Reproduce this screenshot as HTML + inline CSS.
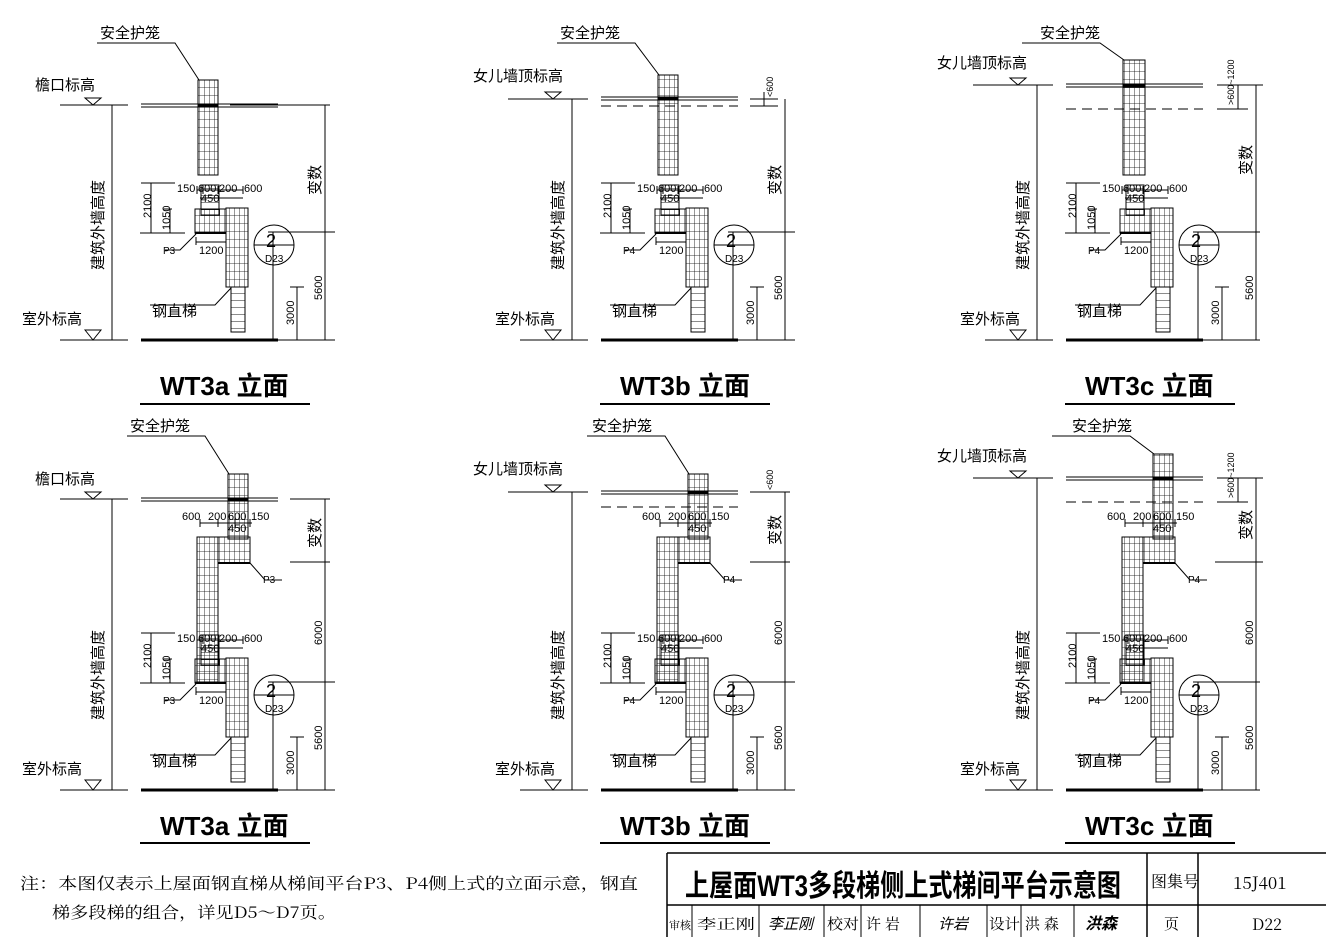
<!DOCTYPE html>
<html><head><meta charset="utf-8"><style>
html,body{margin:0;padding:0;background:#fff}
svg{display:block}
text{font-family:"Liberation Sans","Noto Sans CJK SC",sans-serif;fill:#000}
.s{font-family:"Noto Serif CJK SC","Liberation Serif",serif}
</style></head><body>
<svg width="1326" height="937" viewBox="0 0 1326 937" xmlns="http://www.w3.org/2000/svg">
<defs>
<pattern id="g" width="5" height="8" patternUnits="userSpaceOnUse"><path d="M5 0V8M0 8H5" stroke="#000" stroke-width="0.8" fill="none"/></pattern>
<pattern id="l" width="14" height="7" patternUnits="userSpaceOnUse"><path d="M0 7H14" stroke="#000" stroke-width="0.9"/></pattern>
<g id="low" stroke="#000" fill="none" stroke-width="1">
 <rect x="195" y="209" width="31" height="24" fill="url(#g)"/>
 <rect x="201" y="185" width="18" height="30" fill="url(#l)"/>
 <rect x="226" y="208" width="22" height="79" fill="url(#g)"/>
 <rect x="231" y="287" width="14" height="45" fill="url(#l)"/>
 <path d="M195 233H226" stroke-width="2"/>
 <path d="M141 183H175M151 183V233M140 233H185M163 209H172M170 209V233"/>
 <path d="M197 190H243M197 186V194M203 186V194M218 186V194M243 186V194M200 198H243"/>
 <path d="M196 237V245M196 242H226"/>
 <path d="M196 234L180 250H165"/>
 <path d="M231 288L215 305H150"/>
 <circle cx="274" cy="245" r="20"/><path d="M254 245H294"/>
 <path d="M273 232V340M297 287V340M290 287H304M268 232H335M268 340H335"/>
</g>
</defs>

<!-- COLUMN 1 TOP -->
<g stroke="#000" fill="none">
 <path d="M97 43H175L199 80"/>
 <rect x="198" y="80" width="20" height="95" fill="url(#g)"/>
 <path d="M141 104H278M141 107H278" /><path d="M198 105H218" stroke-width="3"/>
 <path d="M230 105H330"/>
 <path d="M60 105H128M85 98L93 105L101 98Z"/>
 <path d="M112 105V340M60 340H128M85 330L93 340L101 330Z"/>
 <path d="M141 340H278" stroke-width="3"/>
 <path d="M325 105V340"/>
 <path d="M140 404H310" stroke-width="2"/>
</g>
<use href="#low"/>
<text x="100" y="38" font-size="15">安全护笼</text>
<text x="35" y="90" font-size="15">檐口标高</text>
<text x="22" y="324" font-size="15">室外标高</text>
<text x="152" y="316" font-size="15">钢直梯</text>
<text font-size="15" transform="translate(103,270) rotate(-90)">建筑外墙高度</text>
<text font-size="15" transform="translate(320,195) rotate(-90)">变数</text>
<text font-size="11" transform="translate(322,300) rotate(-90)">5600</text>
<text font-size="11" transform="translate(294,325) rotate(-90)">3000</text>
<text font-size="11" transform="translate(151,218) rotate(-90)">2100</text>
<text font-size="11" transform="translate(170,230) rotate(-90)">1050</text>
<text x="177" y="192" font-size="11">150</text><text x="198" y="192" font-size="11">600</text><text x="219" y="192" font-size="11">200</text><text x="244" y="192" font-size="11">600</text>
<text x="201" y="202" font-size="11">450</text><text x="199" y="254" font-size="11">1200</text><text x="163" y="254" font-size="10">P3</text>
<text x="266" y="247" font-size="18">2</text><text x="265" y="262" font-size="10">D23</text>
<text x="160" y="395" font-size="26" font-weight="bold">WT3a 立面</text>

<!-- COLUMN 2 TOP -->
<g transform="translate(460,0)">
<g stroke="#000" fill="none">
 <path d="M97 43H175L199 75"/>
 <rect x="198" y="75" width="20" height="100" fill="url(#g)"/>
 <path d="M141 97H278M141 100H278"/><path d="M198 99H218" stroke-width="3"/>
 <path d="M141 106H278" stroke-dasharray="10 6"/>
 <path d="M290 99H318M290 106H318M304 92V106"/>
 <path d="M48 99H128M85 92L93 99L101 92Z"/>
 <path d="M112 99V340M60 340H128M85 330L93 340L101 330Z"/>
 <path d="M141 340H278" stroke-width="3"/>
 <path d="M325 99V340"/>
 <path d="M140 404H310" stroke-width="2"/>
</g>
<use href="#low"/>
<text x="100" y="38" font-size="15">安全护笼</text>
<text x="13" y="81" font-size="15">女儿墙顶标高</text>
<text x="35" y="324" font-size="15">室外标高</text>
<text x="152" y="316" font-size="15">钢直梯</text>
<text font-size="15" transform="translate(103,270) rotate(-90)">建筑外墙高度</text>
<text font-size="15" transform="translate(320,195) rotate(-90)">变数</text>
<text font-size="9" transform="translate(313,97) rotate(-90)">&lt;600</text>
<text font-size="11" transform="translate(322,300) rotate(-90)">5600</text>
<text font-size="11" transform="translate(294,325) rotate(-90)">3000</text>
<text font-size="11" transform="translate(151,218) rotate(-90)">2100</text>
<text font-size="11" transform="translate(170,230) rotate(-90)">1050</text>
<text x="177" y="192" font-size="11">150</text><text x="198" y="192" font-size="11">600</text><text x="219" y="192" font-size="11">200</text><text x="244" y="192" font-size="11">600</text>
<text x="201" y="202" font-size="11">450</text><text x="199" y="254" font-size="11">1200</text><text x="163" y="254" font-size="10">P4</text>
<text x="266" y="247" font-size="18">2</text><text x="265" y="262" font-size="10">D23</text>
<text x="160" y="395" font-size="26" font-weight="bold">WT3b 立面</text>
</g>

<!-- COLUMN 3 TOP -->
<g transform="translate(925,0)">
<g stroke="#000" fill="none">
 <path d="M97 43H175L199 60"/>
 <rect x="198" y="60" width="22" height="115" fill="url(#g)"/>
 <path d="M141 84H278M141 87H278"/><path d="M198 85H220" stroke-width="3"/>
 <path d="M141 109H278" stroke-dasharray="10 6"/>
 <path d="M292 85H338M292 109H323M313 85V109"/>
 <path d="M48 85H128M85 78L93 85L101 78Z"/>
 <path d="M112 85V340M60 340H128M85 330L93 340L101 330Z"/>
 <path d="M141 340H278" stroke-width="3"/>
 <path d="M331 85V340"/>
 <path d="M140 404H310" stroke-width="2"/>
</g>
<use href="#low"/>
<text x="115" y="38" font-size="15">安全护笼</text>
<text x="12" y="68" font-size="15">女儿墙顶标高</text>
<text x="35" y="324" font-size="15">室外标高</text>
<text x="152" y="316" font-size="15">钢直梯</text>
<text font-size="15" transform="translate(103,270) rotate(-90)">建筑外墙高度</text>
<text font-size="15" transform="translate(326,175) rotate(-90)">变数</text>
<text font-size="9" transform="translate(309,105) rotate(-90)">&gt;600~1200</text>
<text font-size="11" transform="translate(328,300) rotate(-90)">5600</text>
<text font-size="11" transform="translate(294,325) rotate(-90)">3000</text>
<text font-size="11" transform="translate(151,218) rotate(-90)">2100</text>
<text font-size="11" transform="translate(170,230) rotate(-90)">1050</text>
<text x="177" y="192" font-size="11">150</text><text x="198" y="192" font-size="11">600</text><text x="219" y="192" font-size="11">200</text><text x="244" y="192" font-size="11">600</text>
<text x="201" y="202" font-size="11">450</text><text x="199" y="254" font-size="11">1200</text><text x="163" y="254" font-size="10">P4</text>
<text x="266" y="247" font-size="18">2</text><text x="265" y="262" font-size="10">D23</text>
<text x="160" y="395" font-size="26" font-weight="bold">WT3c 立面</text>
</g>

<!-- ROW 2 col1 -->
<g>
<g stroke="#000" fill="none">
 <path d="M127 436H205L229 474"/>
 <rect x="228" y="474" width="20" height="65" fill="url(#g)"/>
 <rect x="218" y="537" width="32" height="26" fill="url(#g)"/>
 <rect x="197" y="537" width="21" height="145" fill="url(#g)"/>
 <path d="M218 563H250" stroke-width="2"/>
 <path d="M250 563L265 580H282"/>
 <path d="M200 523H252M200 519V527M218 519V527M235 519V527M250 519V527"/>
 <path d="M141 498H278M141 501H278"/><path d="M228 499H248" stroke-width="3"/>
 <path d="M290 499H330M290 562H330"/>
 <path d="M60 499H128M85 492L93 499L101 492Z"/>
 <path d="M112 499V790M60 790H128M85 780L93 790L101 780Z"/>
 <path d="M141 790H278" stroke-width="3"/>
 <path d="M325 499V790"/>
 <path d="M140 843H310" stroke-width="2"/>
</g>
<g transform="translate(0,450)"><use href="#low"/></g>
<text x="130" y="431" font-size="15">安全护笼</text>
<text x="35" y="484" font-size="15">檐口标高</text>
<text x="22" y="774" font-size="15">室外标高</text>
<text x="152" y="766" font-size="15">钢直梯</text>
<text font-size="15" transform="translate(103,720) rotate(-90)">建筑外墙高度</text>
<text font-size="15" transform="translate(320,548) rotate(-90)">变数</text>
<text font-size="11" transform="translate(322,750) rotate(-90)">5600</text>
<text font-size="11" transform="translate(322,645) rotate(-90)">6000</text>
<text font-size="11" transform="translate(294,775) rotate(-90)">3000</text>
<text font-size="11" transform="translate(151,668) rotate(-90)">2100</text>
<text font-size="11" transform="translate(170,680) rotate(-90)">1050</text>
<text x="182" y="520" font-size="11">600</text><text x="208" y="520" font-size="11">200</text><text x="228" y="520" font-size="11">600</text><text x="251" y="520" font-size="11">150</text><text x="228" y="532" font-size="11">450</text>
<text x="263" y="583" font-size="10">P3</text>
<text x="177" y="642" font-size="11">150</text><text x="198" y="642" font-size="11">600</text><text x="219" y="642" font-size="11">200</text><text x="244" y="642" font-size="11">600</text>
<text x="201" y="652" font-size="11">450</text><text x="199" y="704" font-size="11">1200</text><text x="163" y="704" font-size="10">P3</text>
<text x="266" y="697" font-size="18">2</text><text x="265" y="712" font-size="10">D23</text>
<text x="160" y="835" font-size="26" font-weight="bold">WT3a 立面</text>
</g>

<!-- ROW 2 col2 -->
<g transform="translate(460,0)">
<g stroke="#000" fill="none">
 <path d="M127 436H205L229 474"/>
 <rect x="228" y="474" width="20" height="65" fill="url(#g)"/>
 <rect x="218" y="537" width="32" height="26" fill="url(#g)"/>
 <rect x="197" y="537" width="21" height="145" fill="url(#g)"/>
 <path d="M218 563H250" stroke-width="2"/>
 <path d="M250 563L265 580H282"/>
 <path d="M200 523H252M200 519V527M218 519V527M235 519V527M250 519V527"/>
 <path d="M141 491H278M141 494H278"/><path d="M228 492H248" stroke-width="3"/>
 <path d="M141 507H278" stroke-dasharray="10 6"/>
 <path d="M290 492H330M290 562H330"/>
 <path d="M48 492H128M85 485L93 492L101 485Z"/>
 <path d="M112 492V790M60 790H128M85 780L93 790L101 780Z"/>
 <path d="M141 790H278" stroke-width="3"/>
 <path d="M325 492V790"/>
 <path d="M140 843H310" stroke-width="2"/>
</g>
<g transform="translate(0,450)"><use href="#low"/></g>
<text x="132" y="431" font-size="15">安全护笼</text>
<text x="13" y="474" font-size="15">女儿墙顶标高</text>
<text x="35" y="774" font-size="15">室外标高</text>
<text x="152" y="766" font-size="15">钢直梯</text>
<text font-size="15" transform="translate(103,720) rotate(-90)">建筑外墙高度</text>
<text font-size="15" transform="translate(320,545) rotate(-90)">变数</text>
<text font-size="9" transform="translate(313,490) rotate(-90)">&lt;600</text>
<text font-size="11" transform="translate(322,750) rotate(-90)">5600</text>
<text font-size="11" transform="translate(322,645) rotate(-90)">6000</text>
<text font-size="11" transform="translate(294,775) rotate(-90)">3000</text>
<text font-size="11" transform="translate(151,668) rotate(-90)">2100</text>
<text font-size="11" transform="translate(170,680) rotate(-90)">1050</text>
<text x="182" y="520" font-size="11">600</text><text x="208" y="520" font-size="11">200</text><text x="228" y="520" font-size="11">600</text><text x="251" y="520" font-size="11">150</text><text x="228" y="532" font-size="11">450</text>
<text x="263" y="583" font-size="10">P4</text>
<text x="177" y="642" font-size="11">150</text><text x="198" y="642" font-size="11">600</text><text x="219" y="642" font-size="11">200</text><text x="244" y="642" font-size="11">600</text>
<text x="201" y="652" font-size="11">450</text><text x="199" y="704" font-size="11">1200</text><text x="163" y="704" font-size="10">P4</text>
<text x="266" y="697" font-size="18">2</text><text x="265" y="712" font-size="10">D23</text>
<text x="160" y="835" font-size="26" font-weight="bold">WT3b 立面</text>
</g>

<!-- ROW 2 col3 -->
<g transform="translate(925,0)">
<g stroke="#000" fill="none">
 <path d="M127 436H205L229 454"/>
 <rect x="228" y="454" width="20" height="85" fill="url(#g)"/>
 <rect x="218" y="537" width="32" height="26" fill="url(#g)"/>
 <rect x="197" y="537" width="21" height="145" fill="url(#g)"/>
 <path d="M218 563H250" stroke-width="2"/>
 <path d="M250 563L265 580H282"/>
 <path d="M200 523H252M200 519V527M218 519V527M235 519V527M250 519V527"/>
 <path d="M141 477H278M141 480H278"/><path d="M228 478H248" stroke-width="3"/>
 <path d="M141 502H278" stroke-dasharray="10 6"/>
 <path d="M292 478H338M292 502H323M313 478V502M290 562H338"/>
 <path d="M48 478H128M85 471L93 478L101 471Z"/>
 <path d="M112 478V790M60 790H128M85 780L93 790L101 780Z"/>
 <path d="M141 790H278" stroke-width="3"/>
 <path d="M331 478V790"/>
 <path d="M140 843H310" stroke-width="2"/>
</g>
<g transform="translate(0,450)"><use href="#low"/></g>
<text x="147" y="431" font-size="15">安全护笼</text>
<text x="12" y="461" font-size="15">女儿墙顶标高</text>
<text x="35" y="774" font-size="15">室外标高</text>
<text x="152" y="766" font-size="15">钢直梯</text>
<text font-size="15" transform="translate(103,720) rotate(-90)">建筑外墙高度</text>
<text font-size="15" transform="translate(326,540) rotate(-90)">变数</text>
<text font-size="9" transform="translate(309,498) rotate(-90)">&gt;600~1200</text>
<text font-size="11" transform="translate(328,750) rotate(-90)">5600</text>
<text font-size="11" transform="translate(328,645) rotate(-90)">6000</text>
<text font-size="11" transform="translate(294,775) rotate(-90)">3000</text>
<text font-size="11" transform="translate(151,668) rotate(-90)">2100</text>
<text font-size="11" transform="translate(170,680) rotate(-90)">1050</text>
<text x="182" y="520" font-size="11">600</text><text x="208" y="520" font-size="11">200</text><text x="228" y="520" font-size="11">600</text><text x="251" y="520" font-size="11">150</text><text x="228" y="532" font-size="11">450</text>
<text x="263" y="583" font-size="10">P4</text>
<text x="177" y="642" font-size="11">150</text><text x="198" y="642" font-size="11">600</text><text x="219" y="642" font-size="11">200</text><text x="244" y="642" font-size="11">600</text>
<text x="201" y="652" font-size="11">450</text><text x="199" y="704" font-size="11">1200</text><text x="163" y="704" font-size="10">P4</text>
<text x="266" y="697" font-size="18">2</text><text x="265" y="712" font-size="10">D23</text>
<text x="160" y="835" font-size="26" font-weight="bold">WT3c 立面</text>
</g>

<!-- note -->
<text x="20" y="889" font-size="16" class="s" textLength="618" lengthAdjust="spacingAndGlyphs">注：本图仅表示上屋面钢直梯从梯间平台P3、P4侧上式的立面示意，钢直</text>
<text x="52" y="918" font-size="16" class="s" textLength="284" lengthAdjust="spacingAndGlyphs">梯多段梯的组合，详见D5～D7页。</text>

<!-- title block -->
<g stroke="#000" fill="none" stroke-width="1.5">
 <path d="M667 853H1326M667 853V937M667 905H1326M1147 853V937M1198 853V937"/>
 <path d="M692 905V937M759 905V937M824 905V937M861 905V937M920 905V937M987 905V937M1021 905V937M1074 905V937" stroke-width="1"/>
</g>
<text x="685" y="896" font-size="30" font-weight="bold" textLength="436" lengthAdjust="spacingAndGlyphs">上屋面WT3多段梯侧上式梯间平台示意图</text>
<text x="1151" y="887" font-size="16" class="s">图集号</text>
<text x="1233" y="889" font-size="17" class="s">15J401</text>
<text x="669" y="929" font-size="11" class="s" textLength="22" lengthAdjust="spacingAndGlyphs">审核</text>
<text x="697" y="929" font-size="14" class="s" textLength="58" lengthAdjust="spacingAndGlyphs">李正刚</text>
<text x="768" y="929" font-size="15" font-style="italic">李正刚</text>
<text x="827" y="929" font-size="15" class="s" textLength="32" lengthAdjust="spacingAndGlyphs">校对</text>
<text x="866" y="929" font-size="15" class="s">许 岩</text>
<text x="938" y="929" font-size="15" font-style="italic">许岩</text>
<text x="989" y="929" font-size="15" class="s" textLength="31" lengthAdjust="spacingAndGlyphs">设计</text>
<text x="1025" y="929" font-size="15" class="s">洪 森</text>
<text x="1085" y="929" font-size="16" font-style="italic" font-weight="bold">洪森</text>
<text x="1164" y="929" font-size="15" class="s">页</text>
<text x="1252" y="930" font-size="16" class="s">D22</text>
</svg>
</body></html>
